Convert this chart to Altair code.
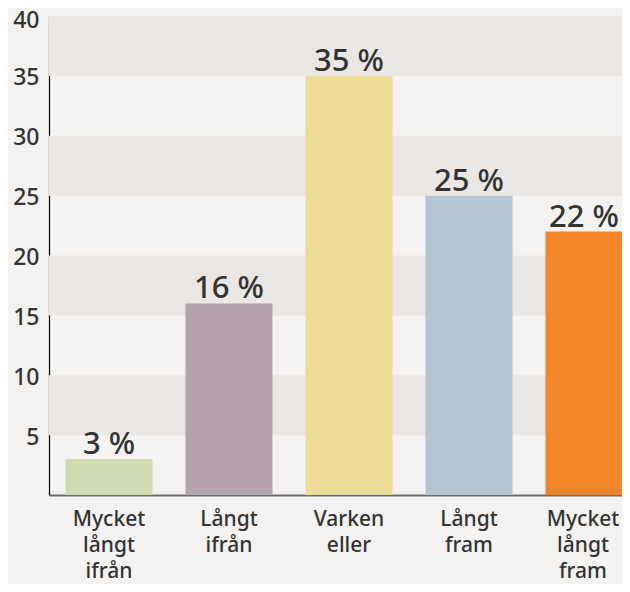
import altair as alt
import pandas as pd

categories = ["Mycket långt ifrån", "Långt ifrån", "Varken eller", "Långt fram", "Mycket långt fram"]
values = [3, 16, 35, 25, 22]
colors = ["#d1dbb1", "#b4a2ad", "#eddc97", "#b4c5d4", "#f28628"]
band_start = [5, 15, 25, 35]
band_end = [10, 20, 30, 40]
y_ticks = [5, 10, 15, 20, 25, 30, 35, 40]

FONT = "Noto Sans"
TEXT = "#333333"
LAST = categories[-1]

df = pd.DataFrame({"cat": categories, "val": values,
                   "label": [f"{v} %" for v in values]})
bands = pd.DataFrame({"y0": band_start, "y1": band_end})

yscale = alt.Scale(domain=[0, 40], nice=False, zero=True)
xscale = alt.Scale(domain=categories, range=[0, 600], paddingInner=0.275, paddingOuter=0.1375)

band_layer = alt.Chart(bands).mark_rect(color="#ebe7e4").encode(
    y=alt.Y("y0:Q", scale=yscale,
            axis=alt.Axis(values=y_ticks, title=None, grid=False, ticks=False,
                          labelFontSize=23, labelColor=TEXT, labelFont=FONT,
                          labelFontWeight=500,
                          labelOffset={"condition": {"test": "datum.value == 40", "value": 4}, "value": 2},
                          labelPadding=10, domainColor="#000000", domainWidth=1.2)),
    y2="y1:Q",
)

bars = alt.Chart(df).mark_bar().encode(
    x=alt.X("cat:N", scale=xscale, sort=categories,
            axis=alt.Axis(title=None, labelAngle=0, ticks=False, labelFontSize=21,
                          labelColor=TEXT, labelFont=FONT, labelFontWeight=500,
                          labelLineHeight=26,
                          labelOffset={"condition": {"test": f"datum.value == '{LAST}'", "value": -6}, "value": 0},
                          labelPadding=13, domainColor="#6b6b6b", domainWidth=2,
                          labelExpr="split(datum.label, ' ')", labelLimit=200)),
    y=alt.Y("val:Q", scale=yscale),
    color=alt.Color("cat:N", scale=alt.Scale(domain=categories, range=colors), legend=None),
)

text_enc = dict(
    x=alt.X("cat:N", scale=xscale, sort=categories),
    y=alt.Y("val:Q", scale=yscale),
    text="label:N",
)
text_main = alt.Chart(df).transform_filter(f"datum.cat != '{LAST}'").mark_text(
    baseline="alphabetic", dy=-5, fontSize=31, font=FONT, fontWeight=500, color=TEXT
).encode(**text_enc)
text_last = alt.Chart(df).transform_filter(f"datum.cat == '{LAST}'").mark_text(
    baseline="alphabetic", dy=-5, dx=-5, fontSize=31, font=FONT, fontWeight=500, color=TEXT
).encode(**text_enc)

chart = alt.layer(band_layer, bars, text_main, text_last).properties(
    width=573, height=479,
    autosize=alt.AutoSizeParams(type="none"),
    padding={"left": 41, "top": 8, "right": 0, "bottom": 89},
    background="#f4f3f1",
).configure_view(stroke=None)

chart.save("out.html", embed_options={"renderer": "svg", "actions": False})
